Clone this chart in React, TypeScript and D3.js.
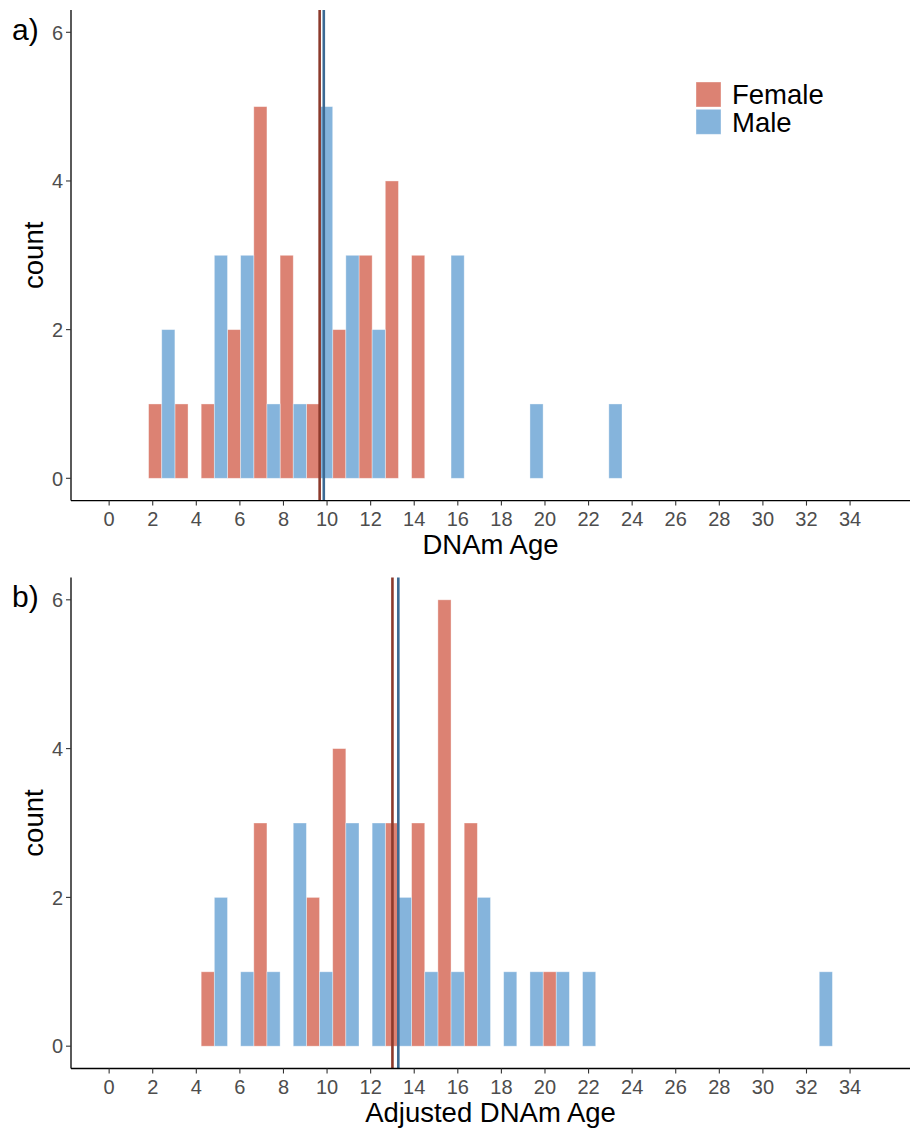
import React from "react";
import * as d3 from "d3";

// ---- data ----
// 30 histogram bins, bin k centred at k * 35/29 (ggplot default bins = 30 over limits 0..35)
const binCount = 30;
const binWidth = 35 / 29;

const femaleA = [0, 0, 1, 1, 1, 2, 5, 3, 1, 2, 3, 4, 3, 0, 0, 0, 0, 0, 0, 0, 0, 0, 0, 0, 0, 0, 0, 0, 0, 0];
const maleA = [0, 0, 2, 0, 3, 3, 1, 1, 5, 3, 2, 0, 0, 3, 0, 0, 1, 0, 0, 1, 0, 0, 0, 0, 0, 0, 0, 0, 0, 0];
const femaleB = [0, 0, 0, 0, 1, 0, 3, 0, 2, 4, 0, 3, 3, 6, 3, 0, 0, 1, 0, 0, 0, 0, 0, 0, 0, 0, 0, 0, 0, 0];
const maleB = [0, 0, 0, 0, 2, 1, 1, 3, 1, 3, 3, 2, 1, 1, 2, 1, 1, 1, 1, 0, 0, 0, 0, 0, 0, 0, 0, 1, 0, 0];

const meanA = { female: 9.66, male: 9.85 };
const meanB = { female: 13.0, male: 13.27 };

const xTicks = d3.range(0, 35, 2);
const yTicks = [0, 2, 4, 6];
const groups = ["Female", "Male"];

const fillColors = ["#DC8273", "#85B4DC"];
const lineColors = ["#8C3A2C", "#3C6A93"];

const FONT = "'Liberation Sans', Arial, Helvetica, sans-serif";

type PanelProps = {
  top: number;
  bottom: number;
  female: number[];
  male: number[];
  means: { female: number; male: number };
  label: string;
  xTitle: string;
  showLegend: boolean;
};

const left = 71;
const right = 910;

const x = d3.scaleLinear().domain([-1.75, 36.75]).range([left, right]);

function Panel({ top, bottom, female, male, means, label, xTitle, showLegend }: PanelProps) {
  const y = d3.scaleLinear().domain([-0.3, 6.3]).range([bottom, top]);
  const bins = d3.range(binCount);
  const series = [female, male];
  return (
    <g>
      {series.map((vals, si) =>
        bins.map((k) => {
          const c = vals[k];
          if (!c) return null;
          const x0 = si === 0 ? (k - 0.5) * binWidth : k * binWidth;
          const x1 = x0 + binWidth / 2;
          return (
            <rect
              key={`${si}-${k}`}
              x={x(x0)}
              width={x(x1) - x(x0)}
              y={y(c)}
              height={y(0) - y(c)}
              fill={fillColors[si]}
              stroke="#ffffff"
              strokeOpacity={0.45}
              strokeWidth={0.8}
            />
          );
        })
      )}
      {[means.female, means.male].map((m, i) => (
        <line
          key={i}
          x1={x(m)}
          x2={x(m)}
          y1={top}
          y2={bottom}
          stroke={lineColors[i]}
          strokeWidth={2.6}
        />
      ))}
      <line x1={left} x2={left} y1={top} y2={bottom} stroke="#000" strokeWidth={1.3} />
      <line x1={left} x2={right} y1={bottom} y2={bottom} stroke="#000" strokeWidth={1.3} />
      {yTicks.map((t) => (
        <g key={t}>
          <line x1={left - 5} x2={left} y1={y(t)} y2={y(t)} stroke="#333" strokeWidth={1.1} />
          <text
            x={left - 8}
            y={y(t)}
            dy="0.36em"
            textAnchor="end"
            fontSize={20}
            fill="#4D4D4D"
            fontFamily={FONT}
          >
            {t}
          </text>
        </g>
      ))}
      {xTicks.map((t) => (
        <g key={t}>
          <line x1={x(t)} x2={x(t)} y1={bottom} y2={bottom + 5} stroke="#333" strokeWidth={1.1} />
          <text
            x={x(t)}
            y={bottom + 25}
            textAnchor="middle"
            fontSize={20}
            fill="#4D4D4D"
            fontFamily={FONT}
          >
            {t}
          </text>
        </g>
      ))}
      <text
        x={(left + right) / 2}
        y={bottom + 53}
        textAnchor="middle"
        fontSize={27.5}
        fill="#000"
        fontFamily={FONT}
      >
        {xTitle}
      </text>
      <text
        transform={`translate(43,${(top + bottom) / 2}) rotate(-90)`}
        textAnchor="middle"
        fontSize={27.5}
        fill="#000"
        fontFamily={FONT}
      >
        count
      </text>
      <text x={12} y={top + 29.5} fontSize={30} fill="#000" fontFamily={FONT}>
        {label}
      </text>
      {showLegend && (
        <g>
          {groups.map((g, i) => (
            <g key={g}>
              <rect
                x={696}
                y={82 + i * 27.3}
                width={25}
                height={25}
                fill={fillColors[i]}
                stroke="#ffffff"
                strokeOpacity={0.45}
                strokeWidth={0.8}
              />
              <text
                x={732}
                y={82 + i * 27.3 + 12.5}
                dy="0.36em"
                fontSize={27.5}
                fill="#000"
                fontFamily={FONT}
              >
                {g}
              </text>
            </g>
          ))}
        </g>
      )}
    </g>
  );
}

export default function App() {
  return (
    <svg
      width={915}
      height={1131}
      style={{ position: "absolute", left: 0, top: 0, background: "#fff" }}
    >
      <rect x={0} y={0} width={915} height={1131} fill="#fff" />
      <Panel
        top={10}
        bottom={500.6}
        female={femaleA}
        male={maleA}
        means={meanA}
        label="a)"
        xTitle="DNAm Age"
        showLegend={true}
      />
      <Panel
        top={577.5}
        bottom={1068.5}
        female={femaleB}
        male={maleB}
        means={meanB}
        label="b)"
        xTitle="Adjusted DNAm Age"
        showLegend={false}
      />
    </svg>
  );
}
